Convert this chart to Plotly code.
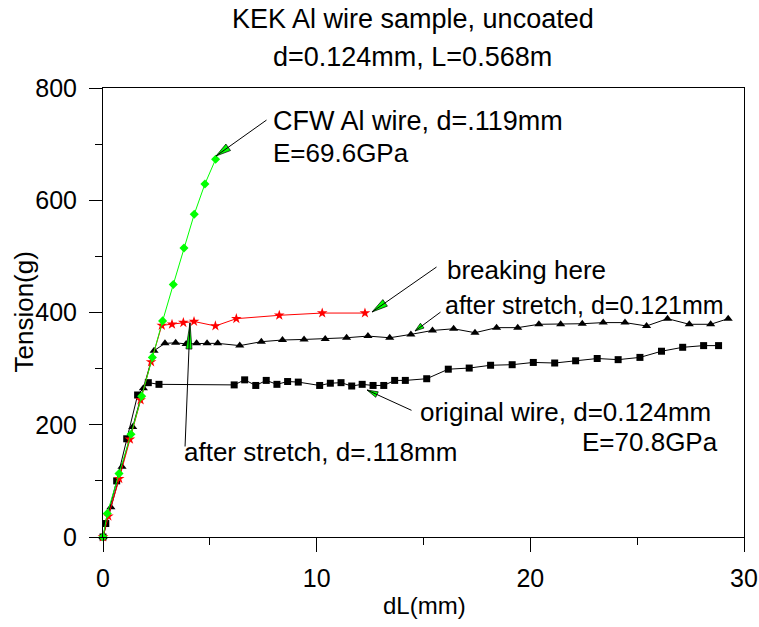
import math
import plotly.graph_objects as go

# ---------------- data ----------------
orig_x = [0, 0.13, 0.64, 1.11, 1.62, 2.12, 2.62, 6.14, 6.63, 7.15, 7.64, 8.14, 8.64, 9.14,
          10.14, 10.64, 11.14, 11.64, 12.13, 12.64, 13.14, 13.65, 14.15, 15.15, 16.16, 17.14,
          18.14, 19.15, 20.14, 21.14, 22.12, 23.13, 24.11, 25.13, 26.14, 27.13, 28.11, 28.81]
orig_y = [0, 24, 100, 175, 253, 275, 272, 271, 280, 270, 279, 272, 277, 276,
          270, 274, 275, 269, 272, 270, 270, 279, 279, 282, 299, 301,
          306, 307, 311, 310, 314, 318, 316, 320, 331, 338, 341, 341]

st121_x = [0, 0.37, 0.89, 1.39, 1.89, 2.39, 2.90, 3.40, 3.89, 4.38, 4.87, 5.37,
           6.40, 7.41, 8.40, 9.41, 10.40, 11.40, 12.40, 13.42, 14.41, 15.42, 16.41, 17.41,
           18.42, 19.41, 20.40, 21.42, 22.43, 23.41, 24.43, 25.44, 26.42, 27.44, 28.44, 29.26]
st121_y = [0, 53, 125, 196, 265, 332, 345, 346, 344, 345, 345, 345,
           341, 348, 351, 352, 353, 355, 358, 355, 361, 368, 371, 364,
           373, 373, 379, 379, 380, 382, 382, 376, 389, 379, 379, 389]

brk_x = [0, 0.25, 0.76, 1.26, 1.76, 2.25, 2.75, 3.23, 3.76, 4.26, 5.26, 6.24, 8.25, 10.26, 12.26]
brk_y = [0, 37, 104, 174, 244, 312, 377, 379, 382, 384, 376, 389, 395, 399, 399]

cfw_x = [0, 0.2, 0.75, 1.31, 1.81, 2.31, 2.79, 3.29, 3.79, 4.27, 4.77, 5.27]
cfw_y = [0, 42, 113, 183, 251, 320, 385, 450, 515, 575, 629, 673]

x_ticks = [0, 10, 20, 30]
y_ticks = [0, 200, 400, 600, 800]

title_lines = ["KEK Al wire sample, uncoated", "d=0.124mm, L=0.568m"]
x_title = "dL(mm)"
y_title = "Tension(g)"

# ---------------- layout geometry ----------------
W, H = 759, 627
L, R, T, B = 103, 744, 88, 537
XR = (0, 30)
YR = (0, 800)
FONT = "Liberation Sans, Arial, sans-serif"
GREEN = "#00ff00"


def px_to_x(px):
    return XR[0] + (px - L) / (R - L) * (XR[1] - XR[0])


def py_to_y(py):
    return YR[0] + (B - py) / (B - T) * (YR[1] - YR[0])


def px_paper(px):
    return (px - L) / (R - L)


def py_paper(py):
    return (B - py) / (B - T)


fig = go.Figure()

fig.add_trace(go.Scatter(x=orig_x, y=orig_y, mode="lines+markers", name="original wire",
                         line=dict(color="black", width=1),
                         marker=dict(symbol="square", size=7, color="black"), cliponaxis=False))
fig.add_trace(go.Scatter(x=st121_x, y=st121_y, mode="lines+markers", name="after stretch 0.121",
                         line=dict(color="black", width=1),
                         marker=dict(symbol="triangle-up", size=8, color="black"), cliponaxis=False))
fig.add_trace(go.Scatter(x=brk_x, y=brk_y, mode="lines+markers", name="breaking",
                         line=dict(color="red", width=1),
                         marker=dict(symbol="star", size=8, color="red"), cliponaxis=False))
fig.add_trace(go.Scatter(x=cfw_x, y=cfw_y, mode="lines+markers", name="CFW",
                         line=dict(color=GREEN, width=1),
                         marker=dict(symbol="diamond", size=7, color=GREEN), cliponaxis=False))

annotations = []
shapes = []


def add_text(txt, px, py, xanchor="left", size=26):
    annotations.append(dict(text=txt, x=px_paper(px), y=py_paper(py), xref="paper", yref="paper",
                            xanchor=xanchor, yanchor="middle", showarrow=False,
                            font=dict(family=FONT, size=size, color="black")))

add_text(title_lines[0], 413, 19, "center", 27)
add_text(title_lines[1], 412, 57, "center", 27)
add_text("CFW Al wire, d=.119mm", 271, 121, size=27)
add_text("E=69.6GPa", 271, 153)
add_text("breaking here", 445, 270)
add_text("after stretch, d=0.121mm", 443, 305, size=25)
add_text("original wire, d=0.124mm", 418, 412, size=26)
add_text("E=70.8GPa", 720, 442, "right")
add_text("after stretch, d=.118mm", 182, 452)
add_text(x_title, 424, 605, "center", 24)
annotations.append(dict(text=y_title, x=px_paper(23), y=0.5, xref="paper", yref="paper",
                        xanchor="center", yanchor="middle", showarrow=False, textangle=-90,
                        font=dict(family=FONT, size=26, color="black")))


def add_arrow(tip, tail, hl, hw):
    tx, ty = tip
    sx, sy = tail
    annotations.append(dict(text="", x=px_to_x(tx), y=py_to_y(ty), xref="x", yref="y",
                            ax=sx - tx, ay=sy - ty, showarrow=True, arrowhead=0,
                            arrowwidth=1, arrowcolor="black", standoff=0, startstandoff=0))
    dxp, dyp = tx - sx, ty - sy
    n = math.hypot(dxp, dyp)
    ux, uy = dxp / n, dyp / n
    bx, by = tx - hl * ux, ty - hl * uy
    pxp, pyp = -uy, ux
    c1 = (bx + hw / 2 * pxp, by + hw / 2 * pyp)
    c2 = (bx - hw / 2 * pxp, by - hw / 2 * pyp)
    path = "M {},{} L {},{} L {},{} Z".format(px_to_x(tx), py_to_y(ty),
                                              px_to_x(c1[0]), py_to_y(c1[1]),
                                              px_to_x(c2[0]), py_to_y(c2[1]))
    shapes.append(dict(type="path", path=path, xref="x", yref="y", fillcolor=GREEN,
                       line=dict(color="black", width=0.7), layer="above"))

add_arrow((216, 156), (268, 119), 15, 8)
add_arrow((372, 312), (438, 266), 16, 8)
add_arrow((415, 331), (442, 311), 9, 6)
add_arrow((367, 390), (413, 411), 11, 6)
add_arrow((190, 323), (185, 448), 26, 6)

fig.update_layout(
    width=W, height=H,
    margin=dict(l=L, r=W - R, t=T, b=H - B, pad=0, autoexpand=False),
    paper_bgcolor="white", plot_bgcolor="white",
    showlegend=False,
    font=dict(family=FONT, size=25, color="black"),
    annotations=annotations, shapes=shapes,
)
fig.update_xaxes(range=list(XR), tickvals=x_ticks, ticks="outside", ticklen=14, tickwidth=1,
                 tickcolor="black", showgrid=False, zeroline=False, showline=True,
                 linecolor="black", linewidth=1, mirror=True, automargin=False,
                 tickfont=dict(family=FONT, size=25, color="black"), ticklabelstandoff=5,
                 minor=dict(dtick=5, tick0=0, ticks="outside", ticklen=7, tickcolor="black",
                            showgrid=False))
fig.update_yaxes(range=list(YR), tickvals=y_ticks, ticks="outside", ticklen=13, tickwidth=1,
                 tickcolor="black", showgrid=False, zeroline=False, showline=True,
                 linecolor="black", linewidth=1, mirror=True, automargin=False,
                 tickfont=dict(family=FONT, size=25, color="black"), ticklabelstandoff=7,
                 minor=dict(dtick=100, tick0=0, ticks="outside", ticklen=7, tickcolor="black",
                            showgrid=False))

fig.write_html("out.html", config={"displayModeBar": False},
               post_script="document.body.style.margin='0';document.body.style.overflow='hidden';")
